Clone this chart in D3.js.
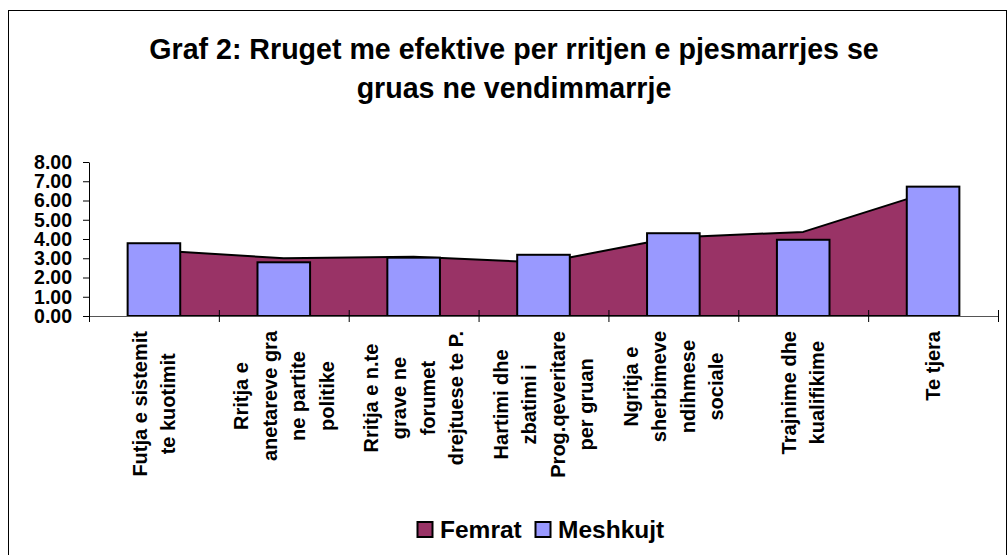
<!DOCTYPE html>
<html>
<head>
<meta charset="utf-8">
<script src="https://cdn.jsdelivr.net/npm/d3@7"></script>
<style>
  body { margin: 0; background: #fff; }
  svg { font-family: 'Liberation Sans', Arial, sans-serif; }
</style>
</head>
<body>
<svg id="chart" width="1007" height="555"></svg>
<script>
// Data
const categories = [
  ['Futja e sistemit', 'te kuotimit'],
  ['Rritja e', 'anetareve gra', 'ne partite', 'politike'],
  ['Rritja e n.te', 'grave ne', 'forumet', 'drejtuese te P.'],
  ['Hartimi dhe', 'zbatimi i', 'Prog.qeveritare', 'per gruan'],
  ['Ngritja e', 'sherbimeve', 'ndihmese', 'sociale'],
  ['Trajnime dhe', 'kualifikime'],
  ['Te tjera']
]
const femrat = [3.42, 3.0, 3.08, 2.78, 4.08, 4.37, 6.5]
const meshkujt = [3.78, 2.79, 3.03, 3.18, 4.3, 3.96, 6.72]
const yTicks = [0, 1, 2, 3, 4, 5, 6, 7, 8]
const titleLines = ['Graf 2: Rruget me efektive per rritjen e pjesmarrjes se', 'gruas ne vendimmarrje']
const seriesNames = ['Femrat', 'Meshkujt']
const colors = ['#993366', '#9999ff']

const svg = d3.select('#chart')

// outer frame (right and bottom edges fall at / past the picture edge)
svg.append('rect')
  .attr('x', 8.5).attr('y', 10.5)
  .attr('width', 998).attr('height', 560)
  .attr('fill', 'none').attr('stroke', '#000').attr('stroke-width', 1)

// title
svg.append('text')
  .attr('x', 514).attr('y', 59)
  .attr('text-anchor', 'middle')
  .style('font-size', '28.6px').style('font-weight', 'bold')
  .selectAll('tspan')
  .data(titleLines)
  .enter()
  .append('tspan')
  .attr('x', 514)
  .attr('dy', (d, i) => (i === 0 ? 0 : 39))
  .text((d) => d)

const plotLeft = 89, plotRight = 998, plotTop = 162, plotBottom = 316

const x = d3.scaleBand()
  .domain(categories.map((d, i) => i))
  .range([plotLeft, plotRight])
  .padding(0)
const y = d3.scaleLinear().domain([0, 8]).range([plotBottom, plotTop])

// Femrat area, points at category centres
const area = d3.area()
  .x((d, i) => x(i) + x.bandwidth() / 2)
  .y0(y(0))
  .y1((d) => y(d))
svg.append('path')
  .datum(femrat)
  .attr('d', area)
  .attr('fill', colors[0])
  .attr('stroke', '#000')
  .attr('stroke-width', 2)
  .attr('stroke-linejoin', 'round')

// Meshkujt bars
const barW = x.bandwidth() * 0.405
svg.selectAll('.bar')
  .data(meshkujt)
  .enter()
  .append('rect')
  .attr('class', 'bar')
  .attr('x', (d, i) => x(i) + (x.bandwidth() - barW) / 2)
  .attr('y', (d) => y(d))
  .attr('width', barW)
  .attr('height', (d) => y(0) - y(d))
  .attr('fill', colors[1])
  .attr('stroke', '#000')
  .attr('stroke-width', 2)

// y axis
const yAxis = svg.append('g')
  .attr('transform', `translate(${plotLeft},0)`)
  .call(d3.axisLeft(y).tickValues(yTicks).tickFormat(d3.format('.2f')).tickSize(6).tickSizeOuter(0).tickPadding(11))
yAxis.select('.domain').attr('stroke', '#000')
yAxis.selectAll('text')
  .style('font-size', '19.5px').style('font-weight', 'bold')
  .style('font-family', "'Liberation Sans', Arial, sans-serif")
  .attr('fill', '#000')

// x axis with tick marks on category boundaries
const xb = d3.scaleLinear().domain([0, categories.length]).range([plotLeft, plotRight])
const xAxis = svg.append('g')
  .attr('transform', `translate(0,${plotBottom})`)
  .call(d3.axisBottom(xb).ticks(categories.length).tickFormat('').tickSizeOuter(0))
xAxis.select('.domain').attr('stroke', '#555')
xAxis.selectAll('.tick line').attr('y1', -6).attr('y2', 6).attr('stroke', '#000')

// category labels, rotated, top aligned under the axis
categories.forEach((lines, i) => {
  const g = svg.append('g')
    .attr('transform', `translate(${x(i) + x.bandwidth() / 2},331) rotate(-90)`)
  const texts = g.selectAll('text')
    .data(lines)
    .enter()
    .append('text')
    .attr('text-anchor', 'middle')
    .attr('dy', '0.35em')
    .attr('y', (d, j) => (j - (lines.length - 1) / 2) * 28.5)
    .style('font-size', '20px').style('font-weight', 'bold')
    .text((d) => d)
  let maxLen = 0
  texts.each(function () { maxLen = Math.max(maxLen, this.getComputedTextLength()) })
  texts.attr('x', -maxLen / 2)
})

// legend
const legendItems = [
  { name: seriesNames[0], color: colors[0], x: 417 },
  { name: seriesNames[1], color: colors[1], x: 535 }
]
const legend = svg.selectAll('.legend')
  .data(legendItems)
  .enter()
  .append('g')
  .attr('class', 'legend')
  .attr('transform', (d) => `translate(${d.x},522)`)
legend.append('rect')
  .attr('x', 0.5).attr('y', 0)
  .attr('width', 15).attr('height', 15)
  .attr('fill', (d) => d.color)
  .attr('stroke', '#000').attr('stroke-width', 2)
legend.append('text')
  .attr('x', 23).attr('y', 16)
  .style('font-size', '24.5px').style('font-weight', 'bold')
  .text((d) => d.name)
</script>
</body>
</html>
